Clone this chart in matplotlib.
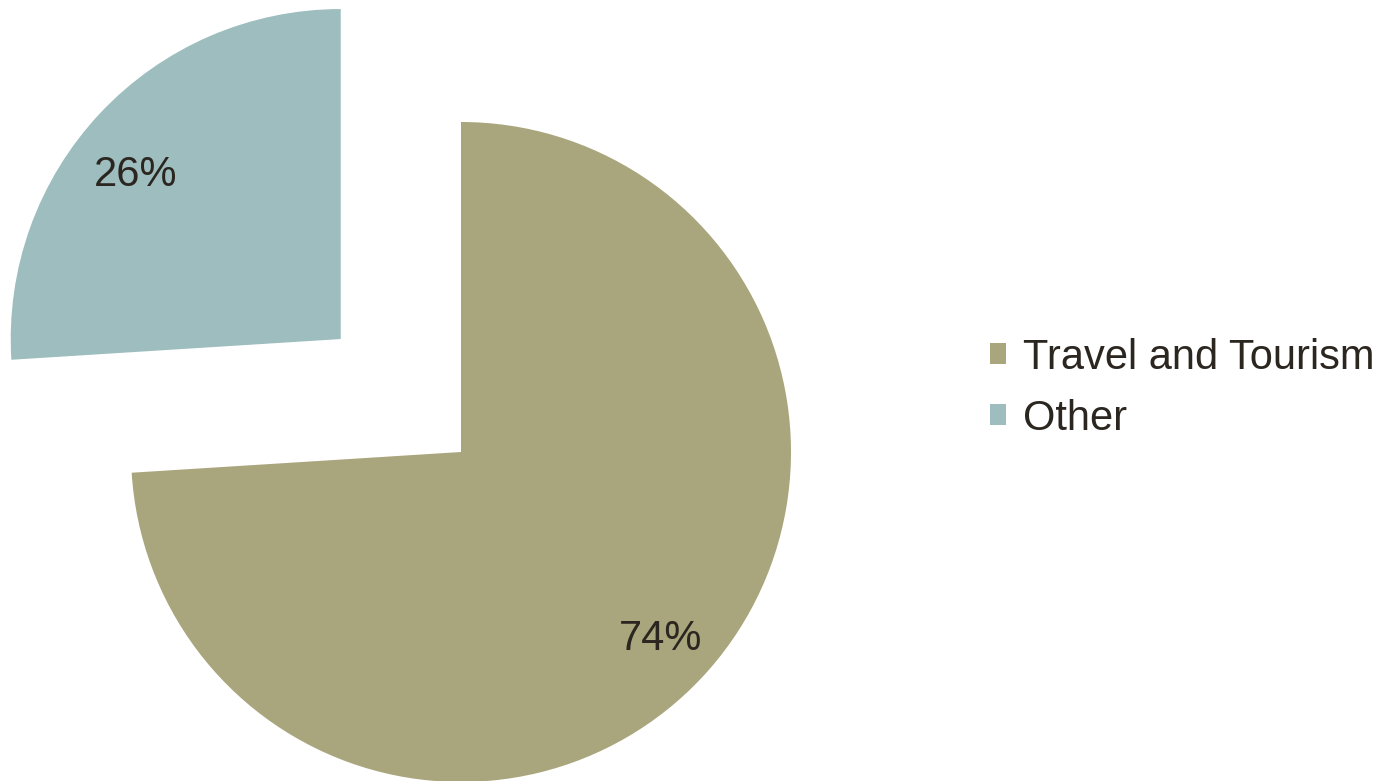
import matplotlib.pyplot as plt

# Share of the total by category
labels = ['Travel and Tourism', 'Other']
shares = [74, 26]
colors = ['#A9A57C', '#9DBDBE']
explode = [0, 0.5]

plt.rcParams['font.family'] = ['Liberation Sans', 'DejaVu Sans']

fig = plt.figure(figsize=(13.98, 7.81), dpi=100)
ax = fig.add_axes([0, 0, 1, 1])

wedges, _, autotexts = ax.pie(
    shares,
    colors=colors,
    explode=explode,
    startangle=90,
    counterclock=False,
    autopct='%1.0f%%',
    pctdistance=0.83,
    textprops={'fontsize': 30, 'color': '#2B2620'},
    wedgeprops={'linewidth': 0},
    frame=False,
)

# nudge the small-slice label a bit lower inside its wedge
x, y = autotexts[1].get_position()
autotexts[1].set_position((x - 0.015, y - 0.07))

# pie radius of 330 px, centred at (461, 452) px from the top left
r = 330.0
ax.set_xlim(-461 / r, (1398 - 461) / r)
ax.set_ylim(-(781 - 452) / r, 452 / r)
ax.set_aspect('equal')
ax.axis('off')

fig.legend(
    wedges, labels,
    loc='center left',
    bbox_to_anchor=(0.681, 0.503),
    frameon=False,
    fontsize=30,
    handlelength=0.4,
    handleheight=0.4,
    handletextpad=0.4,
    labelspacing=0.5,
    labelcolor='#2B2620',
)

fig.savefig('out.png', dpi=100)
